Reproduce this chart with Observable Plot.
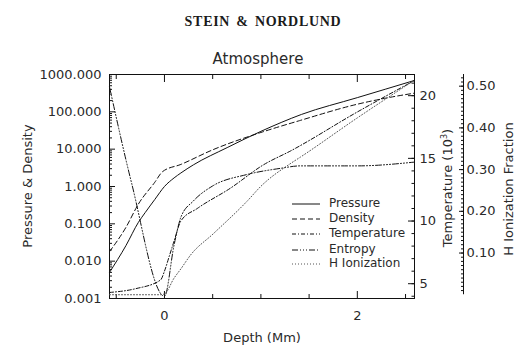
<!DOCTYPE html>
<html><head><meta charset="utf-8">
<script src="https://cdn.jsdelivr.net/npm/d3@7"></script>
<script src="https://cdn.jsdelivr.net/npm/@observablehq/plot@0.6"></script>
<style>
body{margin:0;background:#fff;}
#wrap{position:relative;width:527px;height:351px;overflow:hidden;font-family:"DejaVu Sans",sans-serif;color:#2a2a2a;}
#wrap svg{position:absolute;left:0;top:0;}
.t{position:absolute;white-space:nowrap;line-height:1;}
.rot{transform:translate(-50%,-50%) rotate(-90deg);}
.ctr{transform:translate(-50%,-50%);}
</style></head><body><div id="wrap"></div>
<script>
// ---- data ----
const depthPressure = [-0.57, -0.4, -0.27, -0.2, -0.1, 0, 0.1, 0.17, 0.3, 0.65, 1.0, 1.42, 2.0, 2.59];
const pressure      = [0.005, 0.026, 0.11, 0.2, 0.45, 1.0, 1.7, 2.3, 3.8, 11, 30, 85, 240, 690];
const depthDensity  = [-0.57, -0.4, -0.27, -0.1, -0.02, 0.17, 0.5, 1.0, 1.4, 2.0, 2.34, 2.59];
const density       = [0.018, 0.08, 0.34, 1.3, 2.5, 3.9, 9.6, 28, 58, 160, 245, 316];
const depthTemp     = [-0.57, -0.3, -0.04, 0.0, 0.05, 0.1, 0.17, 0.34, 0.68, 1.03, 1.31, 2.0, 2.59];
const temperature   = [4.3, 4.6, 5.3, 6.0, 7.2, 8.4, 10.0, 11.0, 12.6, 14.5, 15.6, 18.7, 21.2];
const depthEntropy  = [-0.57, -0.34, 0.0, 0.1, 0.17, 0.3, 0.5, 0.85, 1.2, 1.41, 2.0, 2.59];
const entropy       = [20.7, 13.0, 4.0, 8.1, 10.3, 11.6, 12.8, 13.7, 14.2, 14.4, 14.4, 14.7];
const depthHion     = [-0.57, -0.05, 0.0, 0.1, 0.17, 0.27, 0.51, 0.86, 1.0, 1.31, 1.41, 2.0, 2.59];
const hIonization   = [0, 0, 0.002, 0.04, 0.062, 0.095, 0.147, 0.225, 0.26, 0.315, 0.33, 0.424, 0.514];

const seriesNames = ["Pressure", "Density", "Temperature", "Entropy", "H Ionization"];
const seriesDash  = ["none", "5,3", "4,2,1,2", "6,2,1,2,1,2,1,2", "1,2"];
const seriesColor = ["#111", "#111", "#111", "#111", "#555"];

const xTicks = [0, 2];
const xTickLabels = ["0", "2"];
const xMinorTicks = [-0.5, 0.5, 1, 1.5, 2.5];
const leftTicks = [0.001, 0.01, 0.1, 1, 10, 100, 1000];
const leftTickLabels = ["0.001", "0.010", "0.100", "1.000", "10.000", "100.000", "1000.000"];
const tempTicks = [5, 10, 15, 20];
const tempTickLabels = ["5", "10", "15", "20"];
const hTicks = [0.1, 0.2, 0.3, 0.4, 0.5];
const hTickLabels = ["0.10", "0.20", "0.30", "0.40", "0.50"];

const xDomain = [-0.57, 2.593];
const leftDomain = [0.001, 1000];
const tempDomain = [3.82, 21.69];
const hDomain = [-0.009, 0.528];

// ---- build ----
const zip = (xs, ys) => xs.map((d, i) => ({d, v: ys[i]}));
const W = 527, H = 351;
const M = {marginLeft: 109, marginRight: 113, marginTop: 74, marginBottom: 53};
const style = {background: "transparent", fontFamily: "DejaVu Sans, sans-serif", fontSize: "13px", color: "#2a2a2a", overflow: "visible"};
const common = {width: W, height: H, ...M, x: {domain: xDomain, axis: null}, style};
const ink = "#111";

const minorLog = [];
for (let k = -3; k < 3; k++) for (let m = 2; m < 10; m++) minorLog.push(m * Math.pow(10, k));

const plotA = Plot.plot({
  ...common,
  y: {type: "log", domain: leftDomain, axis: null},
  marks: [
    Plot.frame({stroke: ink}),
    Plot.axisY({ticks: leftTicks, tickSize: -6, tickPadding: 14, stroke: ink,
      tickFormat: d => leftTickLabels[leftTicks.indexOf(d)], label: null}),
    Plot.axisY({ticks: minorLog, tickSize: -3, tickFormat: () => "", stroke: ink, label: null}),
    Plot.axisX({anchor: "bottom", ticks: xTicks, tickSize: -7, tickPadding: 19, stroke: ink,
      tickFormat: d => xTickLabels[xTicks.indexOf(d)], label: null}),
    Plot.axisX({anchor: "bottom", ticks: xMinorTicks, tickSize: -4, tickFormat: () => "", stroke: ink, label: null}),
    Plot.axisX({anchor: "top", ticks: xTicks, tickSize: -7, tickFormat: () => "", stroke: ink, label: null}),
    Plot.axisX({anchor: "top", ticks: xMinorTicks, tickSize: -4, tickFormat: () => "", stroke: ink, label: null}),
    Plot.line(zip(depthPressure, pressure), {x: "d", y: "v", stroke: seriesColor[0], strokeWidth: 1, curve: "monotone-x"}),
    Plot.line(zip(depthDensity, density), {x: "d", y: "v", stroke: seriesColor[1], strokeWidth: 1, strokeDasharray: seriesDash[1], curve: "monotone-x"})
  ]
});

const plotB = Plot.plot({
  ...common,
  y: {domain: tempDomain, axis: null},
  marks: [
    Plot.axisY({anchor: "right", ticks: tempTicks, tickSize: -7, tickPadding: 12, stroke: ink,
      tickFormat: d => tempTickLabels[tempTicks.indexOf(d)], label: null}),
    Plot.axisY({anchor: "right", ticks: d3.range(4, 22), tickSize: -3.5, tickFormat: () => "", stroke: ink, label: null}),
    Plot.line(zip(depthTemp, temperature), {x: "d", y: "v", stroke: seriesColor[2], strokeWidth: 1, strokeDasharray: seriesDash[2], curve: "monotone-x"}),
    Plot.line(zip(depthEntropy, entropy), {x: "d", y: "v", stroke: seriesColor[3], strokeWidth: 1, strokeDasharray: seriesDash[3], curve: "monotone-x"})
  ]
});

const plotC = Plot.plot({
  ...common,
  y: {domain: hDomain, axis: null},
  marks: [
    Plot.line(zip(depthHion, hIonization), {x: "d", y: "v", stroke: seriesColor[4], strokeWidth: 1, strokeDasharray: seriesDash[4], curve: "monotone-x"})
  ]
});

const plotD = Plot.plot({
  width: W, height: H, marginLeft: 0, marginRight: 64, marginTop: 74, marginBottom: 53, style,
  x: {domain: [0, 1], axis: null},
  y: {domain: hDomain, axis: null},
  marks: [
    Plot.ruleX([1], {y1: 0, y2: hDomain[1], stroke: ink}),
    Plot.axisY({anchor: "right", ticks: hTicks, tickSize: -5, tickPadding: 8, stroke: ink,
      tickFormat: d => hTickLabels[hTicks.indexOf(d)], label: null}),
    Plot.axisY({anchor: "right", ticks: d3.range(1, 53).map(i => i / 100), tickSize: -3, tickFormat: () => "", stroke: ink, label: null})
  ]
});

const wrap = document.getElementById("wrap");
[plotA, plotB, plotC, plotD].forEach(p => wrap.appendChild(p));

function addText(txt, x, y, cls, css) {
  const el = document.createElement("div");
  el.className = "t " + cls;
  el.innerHTML = txt;
  el.style.left = x + "px"; el.style.top = y + "px";
  Object.assign(el.style, css || {});
  wrap.appendChild(el);
}
addText("STEIN &amp; NORDLUND", 263, 22, "ctr", {fontFamily: "Liberation Serif, serif", fontWeight: "bold", fontSize: "14px", letterSpacing: "0.7px", wordSpacing: "2px", color: "#1a1a1a"});
addText("Atmosphere", 258, 59, "ctr", {fontSize: "15px"});
addText("Pressure &amp; Density", 27, 186, "rot", {fontSize: "13px"});
addText("Temperature (10<sup style='font-size:8px;vertical-align:5px'>3</sup>)", 447, 188, "rot", {fontSize: "13px"});
addText("H Ionization Fraction", 508, 189, "rot", {fontSize: "13px"});
addText("Depth (Mm)", 262, 337, "ctr", {fontSize: "13px"});

// legend
const legendRows = [204, 219, 234, 250, 264];
seriesNames.forEach((name, i) => {
  const svg = document.createElementNS("http://www.w3.org/2000/svg", "svg");
  svg.setAttribute("width", 30); svg.setAttribute("height", 4);
  svg.style.left = "291px"; svg.style.top = (legendRows[i] - 2) + "px";
  const ln = document.createElementNS("http://www.w3.org/2000/svg", "line");
  ln.setAttribute("x1", 1); ln.setAttribute("x2", 29); ln.setAttribute("y1", 2); ln.setAttribute("y2", 2);
  ln.setAttribute("stroke", seriesColor[i]); ln.setAttribute("stroke-width", 1);
  if (seriesDash[i] !== "none") ln.setAttribute("stroke-dasharray", seriesDash[i]);
  svg.appendChild(ln);
  wrap.appendChild(svg);
  addText(name, 329, legendRows[i] - 7, "", {fontSize: "12px"});
});
</script></body></html>
